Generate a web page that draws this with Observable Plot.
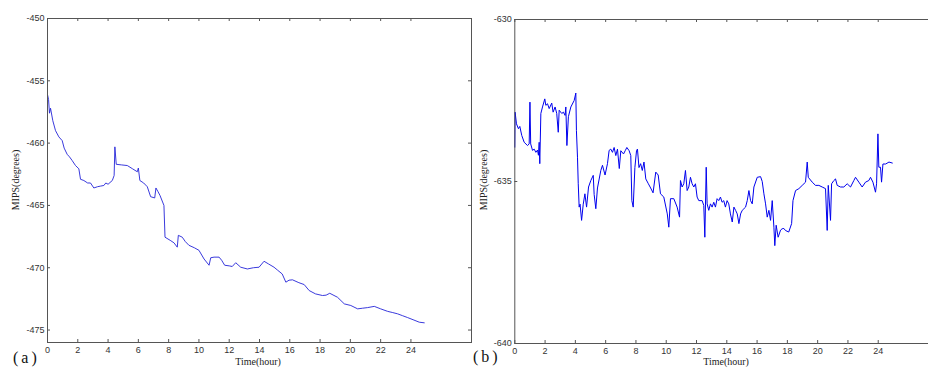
<!DOCTYPE html>
<html>
<head>
<meta charset="utf-8">
<script src="https://cdn.jsdelivr.net/npm/d3@7"></script>
<script src="https://cdn.jsdelivr.net/npm/@observablehq/plot@0.6"></script>
<style>
  html, body { margin: 0; padding: 0; background: #fff; overflow: hidden; }
  #wrap { position: relative; width: 928px; height: 369px; overflow: hidden; background: #fff; }
  .panel { position: absolute; top: 0; }
  .lab { position: absolute; white-space: nowrap; font-family: "Liberation Serif", "Times New Roman", serif; color: #222; line-height: 1; }
  .ylab { font-size: 10px; transform: translate(-50%, -50%) rotate(-90deg); }
  .xlab { font-size: 10px; transform: translate(-50%, -50%); }
  .tag { font-size: 16px; letter-spacing: 3px; transform: translate(0, -50%); color: #111; }
</style>
</head>
<body>
<div id="wrap"></div>
<script>
// ---- tick labels ----
const xTicks = [0, 2, 4, 6, 8, 10, 12, 14, 16, 18, 20, 22, 24];
const leftYTicks = [-450, -455, -460, -465, -470, -475];
const rightYTicks = [-630, -635, -640];

// ---- panel (a) series ----
const leftHours = [0,0.07,0.13,0.2,0.35,0.53,0.75,0.97,1.1,1.3,1.45,1.63,1.85,2.07,2.18,2.4,2.65,2.84,3.06,3.3,3.5,3.72,3.85,4.0,4.28,4.4,4.45,4.54,4.9,5.27,5.6,5.93,6.0,6.1,6.35,6.59,6.81,7.08,7.16,7.3,7.43,7.69,7.76,8.1,8.35,8.57,8.64,8.9,9.1,9.34,9.7,10.0,10.34,10.67,10.78,11.0,11.33,11.5,11.7,12.0,12.2,12.43,12.76,13.2,13.6,13.97,14.3,14.6,14.96,15.2,15.5,15.74,15.95,16.18,16.6,16.95,17.28,17.7,18.16,18.4,18.64,19.15,19.6,20.03,20.48,20.8,21.14,21.58,22.0,22.46,22.8,23.12,23.45,23.78,24.2,24.55,24.88];
const leftValues = [-456.1,-456.5,-457.6,-457.2,-458.2,-459.0,-459.5,-459.8,-460.4,-460.9,-461.1,-461.4,-461.8,-462.06,-462.9,-463.0,-463.2,-463.2,-463.6,-463.5,-463.45,-463.4,-463.2,-463.3,-463.0,-462.6,-460.3,-461.7,-461.75,-461.8,-462.05,-462.3,-462.0,-463.0,-463.2,-463.5,-464.3,-464.4,-463.6,-463.9,-464.2,-465.0,-467.55,-467.8,-468.0,-468.35,-467.4,-467.55,-467.9,-468.2,-468.4,-468.6,-469.3,-469.8,-469.2,-469.15,-469.15,-469.4,-469.8,-469.85,-469.9,-469.6,-469.96,-470.1,-470.0,-469.96,-469.48,-469.7,-469.96,-470.2,-470.5,-471.16,-471.0,-470.97,-471.2,-471.35,-471.83,-472.1,-472.23,-472.2,-472.05,-472.37,-472.9,-473.03,-473.3,-473.25,-473.2,-473.1,-473.3,-473.5,-473.6,-473.7,-473.85,-474.0,-474.2,-474.37,-474.42];

// ---- panel (b) series ----
const rightHours = [0,0.02,0.11,0.24,0.33,0.46,0.62,0.84,0.95,1.0,1.05,1.17,1.28,1.39,1.5,1.56,1.61,1.65,1.72,1.83,1.98,2.05,2.16,2.27,2.44,2.53,2.66,2.77,2.87,2.93,3.1,3.21,3.32,3.37,3.44,3.54,3.7,3.92,4.03,4.07,4.14,4.19,4.25,4.31,4.41,4.52,4.63,4.74,4.87,5.02,5.18,5.24,5.35,5.46,5.68,5.79,5.96,6.12,6.23,6.34,6.45,6.56,6.67,6.78,6.9,7.0,7.18,7.29,7.4,7.55,7.66,7.73,7.82,7.93,8.04,8.1,8.2,8.31,8.42,8.53,8.65,8.82,8.97,9.13,9.31,9.47,9.62,9.84,10.07,10.17,10.28,10.5,10.72,10.88,10.94,11.05,11.16,11.27,11.38,11.49,11.6,11.71,11.82,11.93,12.04,12.15,12.37,12.48,12.55,12.64,12.7,12.81,12.92,13.03,13.14,13.25,13.36,13.47,13.58,13.69,13.8,13.91,14.02,14.13,14.24,14.36,14.47,14.58,14.69,14.8,14.91,15.02,15.13,15.24,15.35,15.46,15.57,15.68,15.79,16.01,16.23,16.34,16.45,16.56,16.67,16.78,16.89,17.0,17.11,17.17,17.26,17.39,17.55,17.65,17.77,17.87,18.09,18.28,18.37,18.54,18.76,18.98,19.2,19.31,19.38,19.64,19.86,20.08,20.3,20.52,20.63,20.7,20.85,20.92,21.07,21.18,21.29,21.51,21.73,21.95,22.17,22.39,22.5,22.72,22.94,23.16,23.38,23.49,23.65,23.82,23.89,23.98,24.04,24.15,24.22,24.31,24.49,24.71,24.93];
const rightValues = [-633.94,-632.86,-633.22,-633.37,-633.3,-633.58,-633.79,-633.89,-633.84,-632.55,-633.84,-634.04,-634.0,-634.1,-634.03,-634.19,-633.79,-634.45,-632.9,-632.7,-632.45,-632.65,-632.6,-632.75,-632.58,-632.86,-632.7,-632.9,-633.48,-632.8,-632.9,-632.86,-632.96,-632.7,-633.89,-633.0,-632.7,-632.5,-632.27,-633.43,-634.25,-635.07,-635.79,-635.7,-636.2,-635.7,-635.38,-635.79,-635.17,-634.97,-634.81,-635.4,-635.84,-635.2,-634.66,-634.5,-634.8,-634.45,-634.04,-634.0,-634.1,-633.95,-634.2,-634.0,-634.6,-634.05,-634.15,-634.05,-633.95,-634.05,-634.2,-635.59,-635.79,-634.57,-634.04,-634.0,-634.57,-634.45,-634.66,-634.4,-634.92,-635.07,-635.2,-635.35,-634.71,-634.8,-635.38,-635.48,-636.0,-636.41,-635.53,-635.53,-635.79,-636.1,-634.97,-635.17,-635.07,-634.66,-635.28,-635.17,-634.87,-635.07,-635.17,-635.07,-635.48,-635.59,-635.59,-635.74,-636.72,-634.56,-635.69,-635.89,-635.69,-635.79,-635.64,-635.79,-635.53,-635.59,-635.48,-635.64,-635.59,-635.79,-635.59,-635.69,-636.0,-636.25,-635.79,-635.89,-636.0,-636.3,-636.0,-635.89,-635.84,-635.79,-635.59,-635.28,-635.59,-635.69,-635.17,-634.87,-634.85,-635.0,-635.38,-635.69,-636.1,-635.89,-636.2,-635.59,-636.41,-636.98,-636.35,-636.72,-636.5,-636.46,-636.45,-636.51,-636.56,-636.3,-635.59,-635.28,-635.22,-635.12,-635.02,-634.4,-634.87,-635.02,-635.12,-635.12,-635.17,-635.22,-636.51,-635.12,-636.2,-635.07,-634.97,-634.92,-635.12,-635.17,-635.17,-635.07,-635.17,-634.97,-634.87,-635.02,-635.17,-635.02,-634.97,-634.87,-635.02,-635.33,-635.07,-633.53,-634.56,-634.56,-635.02,-634.46,-634.46,-634.4,-634.43];

const leftData = leftHours.map((h, i) => ({h, v: leftValues[i]}));
const rightData = rightHours.map((h, i) => ({h, v: rightValues[i]}));

const fmt = d => String(d);
const axisColor = "#555";

function panel({width, height, mt, mr, mb, ml, yDomain, yTicks, data, stroke, sw, rightTicks}) {
  const fw = width - ml - mr, fh = height - mt - mb, t = 3;
  const marks = [
    Plot.axisX(xTicks, {anchor: "bottom", tickSize: 0, tickPadding: 4, tickFormat: fmt, label: null, fill: "#333"}),
    Plot.axisY(yTicks, {anchor: "left", tickSize: 0, tickPadding: 3, tickFormat: fmt, label: null, fill: "#333"}),
    Plot.ruleX(xTicks, {x: d => d, insetTop: fh - t, stroke: axisColor}),
    Plot.ruleX(xTicks, {x: d => d, insetBottom: fh - t, stroke: axisColor}),
    Plot.ruleY(yTicks, {y: d => d, insetRight: fw - t, stroke: axisColor}),
    Plot.line(data, {x: "h", y: "v", stroke, strokeWidth: sw}),
    Plot.frame({stroke: axisColor, strokeWidth: 1})
  ];
  if (rightTicks) marks.push(Plot.ruleY(yTicks, {y: d => d, insetLeft: fw - t, stroke: axisColor}));
  return Plot.plot({
    width, height,
    marginTop: mt, marginRight: mr, marginBottom: mb, marginLeft: ml,
    x: {domain: [0, 28]},
    y: {domain: yDomain},
    style: {fontFamily: "'Liberation Sans', Arial, sans-serif", fontSize: "9px", background: "transparent", overflow: "visible"},
    marks
  });
}

const wrap = document.getElementById("wrap");

const a = panel({width: 480, height: 369, mt: 18, mr: 9, mb: 27, ml: 47,
  yDomain: [-476, -450], yTicks: leftYTicks, data: leftData, stroke: "#2424d8", sw: 0.9, rightTicks: true});
a.classList.add("panel"); a.style.left = "0px";
wrap.appendChild(a);

const b = panel({width: 480, height: 369, mt: 19, mr: 1.7, mb: 26, ml: 54.3,
  yDomain: [-640, -630], yTicks: rightYTicks, data: rightData, stroke: "#0000ee", sw: 1, rightTicks: false});
b.classList.add("panel"); b.style.left = "460px";
wrap.appendChild(b);

function label(text, cls, x, y) {
  const d = document.createElement("div");
  d.className = "lab " + cls;
  d.textContent = text;
  d.style.left = x + "px";
  d.style.top = y + "px";
  wrap.appendChild(d);
}
label("MIPS(degrees)", "ylab", 16, 180);
label("MIPS(degrees)", "ylab", 484, 180);
label("Time(hour)", "xlab", 258, 362);
label("Time(hour)", "xlab", 726, 362);
label("(a)", "tag", 13, 358);
label("(b)", "tag", 473, 357);
</script>
</body>
</html>
